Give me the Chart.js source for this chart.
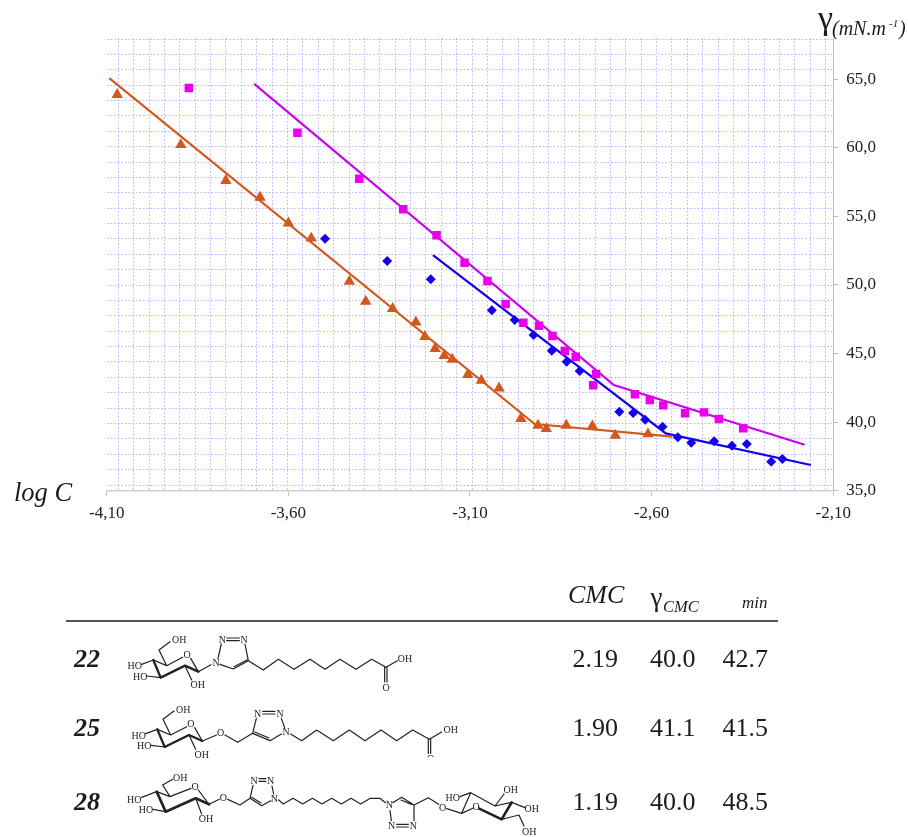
<!DOCTYPE html>
<html><head><meta charset="utf-8">
<style>
html,body{margin:0;padding:0;background:#fff;width:908px;height:837px;overflow:hidden}
#c{position:absolute;left:0;top:0;filter:blur(.35px)}
#o{position:absolute;left:0;top:0;filter:blur(.35px)}
text{font-family:"Liberation Serif",serif;fill:#1c1c1c}
.a{font-size:30px;fill:#222}
</style>
<script src="https://cdn.jsdelivr.net/npm/chart.js@4"></script>
</head><body>
<canvas id="c" width="908" height="837"></canvas>
<svg id="o" width="908" height="837" viewBox="0 0 908 837"></svg>
<script>
// ---- chart data ----
const xTicks = [-4.1,-3.6,-3.1,-2.6,-2.1];
const yTicks = [35,40,45,50,55,60,65];

const triX = [-4.071,-3.896,-3.772,-3.678,-3.60,-3.537,-3.432,-3.387,-3.313,-3.249,-3.224,-3.196,-3.171,-3.149,-3.106,-3.069,-3.02,-2.96,-2.913,-2.89,-2.835,-2.763,-2.70,-2.61];
const triY = [63.87,60.22,57.60,56.38,54.5,53.4,50.26,48.8,48.27,47.29,46.23,45.35,44.84,44.57,43.46,43.04,42.48,40.25,39.76,39.52,39.76,39.71,39.03,39.13];
const triLineX = [-4.093,-2.922,-2.543];
const triLineY = [65.08,39.86,38.94];

const sqX = [-3.874,-3.575,-3.405,-3.284,-3.192,-3.115,-3.052,-3.002,-2.953,-2.91,-2.873,-2.839,-2.809,-2.753,-2.761,-2.646,-2.605,-2.568,-2.508,-2.456,-2.415,-2.348];
const sqY = [64.35,61.09,57.74,55.51,53.62,51.62,50.28,48.61,47.24,47.03,46.28,45.18,44.77,43.51,42.68,42.03,41.61,41.22,40.64,40.71,40.23,39.55];
const sqLineX = [-3.694,-2.704,-2.179];
const sqLineY = [64.66,42.70,38.35];

const diaX = [-3.499,-3.328,-3.208,-3.04,-2.977,-2.925,-2.875,-2.834,-2.798,-2.689,-2.651,-2.618,-2.57,-2.528,-2.491,-2.428,-2.379,-2.338,-2.271,-2.24];
const diaY = [53.37,51.74,50.41,48.15,47.44,46.35,45.2,44.4,43.72,40.76,40.66,40.17,39.66,38.89,38.5,38.6,38.28,38.4,37.11,37.31];
const diaLineX = [-3.202,-2.561,-2.162];
const diaLineY = [52.18,39.18,36.87];

const compounds = ["22","25","28"];
const cmc = ["2.19","1.90","1.19"];
const gammaCmc = ["40.0","41.1","40.0"];
const aMin = ["42.7","41.5","48.5"];

const ORANGE='#D2591C', MAGENTA='#CE00EC', SQ='#EA00EA', BLUE='#1500EE', GRID='rgba(176,170,255,.85)';
const pts=(xs,ys)=>xs.map((x,i)=>({x,y:ys[i]}));
const line=(xs,ys,c)=>({data:pts(xs,ys),showLine:true,borderColor:c,borderWidth:2.2,pointRadius:0,order:2,tension:0});
const marks=(xs,ys,c,style,r)=>({data:pts(xs,ys),showLine:false,backgroundColor:c,borderColor:c,borderWidth:0,pointStyle:style,pointRadius:r,order:1});

const gridFrom=(start,step,end)=>{const t=[];for(let v=start;v<=end;v+=step)t.push({value:v});return t;};

new Chart(document.getElementById('c'),{
 type:'scatter',
 data:{datasets:[
  line(triLineX,triLineY,ORANGE),line(sqLineX,sqLineY,MAGENTA),line(diaLineX,diaLineY,BLUE),
  marks(triX,triY,ORANGE,'triangle',6.6),marks(sqX,sqY,SQ,'rect',6),marks(diaX,diaY,BLUE,'rectRot',5)
 ]},
 options:{
  responsive:false,animation:false,
  layout:{padding:{left:106.7,top:38,right:0,bottom:0}},
  plugins:{legend:{display:false},tooltip:{enabled:false}},
  scales:{
   gx:{type:'linear',axis:'x',position:'bottom',min:-4.1,max:-2.1,
     afterBuildTicks:s=>{s.ticks=gridFrom(-4.068,0.04233,-2.11);},
     afterFit:s=>{s.height=0;},
     ticks:{display:false},border:{display:false,dash:[1.7,1.9]},grid:{color:GRID,lineWidth:1,drawTicks:false}},
   gy:{type:'linear',axis:'y',position:'left',min:35,max:68,
     afterBuildTicks:s=>{s.ticks=gridFrom(35.415,1.121,68);},
     afterFit:s=>{s.width=0;},
     ticks:{display:false},border:{display:false,dash:[1.7,1.9]},grid:{color:GRID,lineWidth:1,drawTicks:false}},
   x:{type:'linear',position:'bottom',min:-4.1,max:-2.1,
     afterBuildTicks:s=>{s.ticks=xTicks.map(value=>({value}));},
     afterFit:s=>{s.height=837-490.7;},
     border:{display:true,color:'#cfcfcf',width:1.5},
     grid:{drawOnChartArea:false,drawTicks:true,tickLength:5,color:'#bdbdbd'},
     ticks:{color:'#222',font:{family:'"Liberation Serif"',size:17},padding:8,maxRotation:0,
       callback:v=>v.toFixed(2).replace('.',',')}},
   y:{type:'linear',position:'right',min:35,max:68,
     afterBuildTicks:s=>{s.ticks=yTicks.map(value=>({value}));},
     afterFit:s=>{s.width=908-833.3;},
     border:{display:true,color:'#bdbdbd',width:1},
     grid:{drawOnChartArea:false,drawTicks:true,tickLength:5,color:'#bdbdbd'},
     ticks:{color:'#222',font:{family:'"Liberation Serif"',size:17},padding:8,
       callback:v=>v.toFixed(1).replace('.',',')}}
  }
 }
});

// ---- text and table overlay ----
const NS='http://www.w3.org/2000/svg', svg=document.getElementById('o');
function el(name,attrs,parent){const e=document.createElementNS(NS,name);for(const k in attrs)e.setAttribute(k,attrs[k]);(parent||svg).appendChild(e);return e;}
function txt(s,x,y,size,extra,parent){const e=el('text',Object.assign({x,y,'font-size':size},extra||{}),parent);e.textContent=s;return e;}
const IT={'font-style':'italic'};

txt('γ',818,29,34);
txt('(mN.m',832,35,20,IT);
txt('-1',889,27,11,IT);
txt(')',899,35,20,IT);
txt('log C',14,500.5,26.5,IT);

txt('CMC',568,603,26,IT);
txt('γ',650.5,606,27);
txt('CMC',663,612,16.5,IT);
txt('min',742,608,17,IT);
el('line',{x1:66,y1:621,x2:778,y2:621,stroke:'#1a1a1a','stroke-width':1.6});

const rowBase=[666.7,736,809.5];
compounds.forEach((c,i)=>{
  txt(c,74,rowBase[i],26,{'font-style':'italic','font-weight':'bold'});
  txt(cmc[i],572.5,rowBase[i],26);
  txt(gammaCmc[i],650,rowBase[i],26);
  txt(aMin[i],722.5,rowBase[i],26);
});

// ---- structural formulae (drawing, in a 3x local frame) ----
const mol=el('g',{transform:'translate(60,570) scale(0.33333)',fill:'none',stroke:'#222','stroke-width':3.6,'stroke-linejoin':'round','stroke-linecap':'round'});
const P=d=>el('path',{d},mol);
const B=d=>el('path',{d,'stroke-width':8},mol);
const A=(s,x,y)=>{const t=txt(s,x,y,30,{class:'a','text-anchor':'middle',stroke:'none'},mol);return t;};

function glucose(dx,dy){
  const g=el('g',{transform:`translate(${dx},${dy})`},mol);
  const p=(d,w)=>el('path',{d,'stroke-width':w||3.6},g);
  p('M280 270L320 287L368 262M392 265L415 305M245 283L280 270M262 318L302 323M320 287L297 240L330 215M375 287L395 330');
  p('M280 270L302 323L375 287L415 305',7);
  const a=(s,x,y)=>txt(s,x,y,30,{class:'a','text-anchor':'middle',stroke:'none'},g);
  a('HO',224,298);a('HO',241,330);a('OH',358,220);a('O',381,264);a('OH',413,355);
}
// 22
glucose(0,0);
P('M415 305L453 284');
A('N',468,288);A('N',487,218);A('N',552,218);
P('M474 265L484 222M500 204H538M500 212H538M555 222L565 272L520 297L480 283M561 270L522 290M565 272L610 300L655 268L702 298L750 268L795 298L840 268L888 298L935 268L978 292L1012 272M974 292V336M981 292V336');
A('OH',1035,276);A('O',978,362);
// 25
glucose(12,208);
P('M427 513L470 495M495 495L533 517L578 490');
A('O',482,499);A('N',593,441);A('N',660,441);A('N',678,496);
P('M578 490L589 445M608 424H645M608 432H645M664 445L674 473M664 492L630 512L578 490M627 504L584 486M692 492L725 512L770 480L820 512L868 480L915 512L963 480L1010 512L1058 480L1108 508L1145 486M1105 508V550M1112 508V550');
A('OH',1172,488);A('O',1112,576);
el('rect',{x:1085,y:561,width:60,height:30,fill:'#fff',stroke:'none'},mol);
// 28
P('M290 665L330 680L393 655M415 660L447 703M245 682L290 665M280 718L317 725M330 680L308 645L338 628M407 685L425 732M447 703L478 688M503 688L540 705L570 685');
B('M290 665L317 725L407 685L447 703');
A('HO',223,698);A('HO',258,728);A('OH',361,633);A('O',405,661);A('OH',438,757);A('O',490,693);
A('N',582,642);A('N',632,642);A('N',643,695);
P('M570 685L579 646M597 626H618M597 634H618M636 648L641 672M632 692L605 707L570 685M603 699L575 682');
P('M656 690L670 702L699 685L728 702L757 685L786 702L815 685L844 702L873 685L902 702L931 685L960 685L976 698');
A('N',988,715);A('N',995,778);A('N',1060,778);
P('M990 722L994 752M1010 763H1045M1010 771H1045M1062 752L1062 705L1025 682L998 698M1055 703L1023 690M1062 705L1105 683L1136 703');
A('O',1148,722);
P('M1160 716L1205 730M1205 730L1240 714M1205 730L1232 668M1232 668L1305 708L1355 697M1305 708L1332 672M1355 697L1395 713M1325 748L1377 735L1392 768M1200 680L1232 668');
B('M1258 716L1325 748L1355 697');
A('HO',1178,692);A('O',1248,721);A('OH',1352,668);A('OH',1415,726);A('OH',1408,794);
</script>
</body></html>
